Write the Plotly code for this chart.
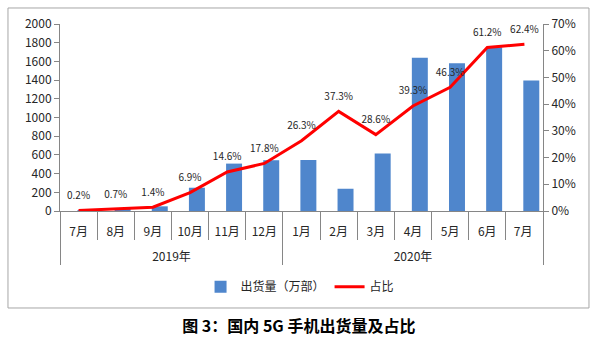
import plotly.graph_objects as go

years = ["<br>2019年"] * 6 + ["<br>2020年"] * 7
# trailing space on 2020's July keeps it distinct from 2019's July (plotly groups identical sub-labels)
months = ["7月", "8月", "9月", "10月", "11月", "12月", "1月", "2月", "3月", "4月", "5月", "6月", "7月 "]
shipments = [5, 22, 50, 249, 507, 543, 546, 238, 616, 1638, 1579, 1751, 1395]
share_pct = [0.2, 0.7, 1.4, 6.9, 14.6, 17.8, 26.3, 37.3, 28.6, 39.3, 46.3, 61.2, 62.4]
share_labels = [f"{v}%" for v in share_pct]

FONT = "Noto Sans CJK SC, Noto Sans, sans-serif"
AX = "#868686"

fig = go.Figure()
fig.add_trace(go.Bar(
    x=[years, months], y=shipments, name="出货量（万部）",
    marker=dict(color="#4F86CC", line=dict(width=0)),
    width=0.43, offset=-0.03,
))
fig.add_trace(go.Scatter(
    x=[years, months], y=share_pct, name="占比", yaxis="y2",
    mode="lines+markers+text", text=share_labels, textposition="top center",
    textfont=dict(size=10, color="#262626", family=FONT),
    marker=dict(size=13, color="rgba(0,0,0,0)"),
    line=dict(color="#FF0000", width=3),
    cliponaxis=False,
))

fig.update_layout(
    width=600, height=350,
    margin=dict(l=60, r=57, t=24, b=139),
    paper_bgcolor="white", plot_bgcolor="white",
    font=dict(family=FONT, size=12, color="#262626"),
    showlegend=True,
    legend=dict(orientation="h", x=0.497, xanchor="center", y=-0.405, yanchor="middle",
                font=dict(size=12, family=FONT), itemwidth=30, traceorder="normal"),
    title=dict(text="<b>图 3：国内 5G 手机出货量及占比</b>", x=0.498, xanchor="center",
               xref="container", y=1 - 326 / 350, yref="container", yanchor="middle",
               font=dict(size=16, family=FONT, color="#000000")),
    xaxis=dict(
        type="multicategory", range=[-0.5, 12.5], showline=True, linecolor=AX, linewidth=1,
        ticks="outside", tickson="boundaries", ticklen=28, tickcolor=AX,
        ticklabelstandoff=10,
        showdividers=True, dividercolor=AX, dividerwidth=1,
        showgrid=False, tickfont=dict(size=12, family=FONT),
    ),
    yaxis=dict(
        range=[0, 2000], dtick=200, showgrid=False, showline=True, linecolor=AX,
        ticks="outside", ticklen=5, tickcolor=AX, zeroline=False,
        tickfont=dict(size=12, family=FONT),
    ),
    yaxis2=dict(
        range=[0, 70], dtick=10, ticksuffix="%", overlaying="y", side="right",
        showgrid=False, showline=True, linecolor=AX, ticks="outside", ticklen=5,
        tickcolor=AX, zeroline=False, tickfont=dict(size=12, family=FONT),
    ),
    shapes=[dict(type="rect", xref="paper", yref="paper",
                 x0=-0.1077, x1=1.0952, y0=-0.5187, y1=1.0856,
                 line=dict(color="#A6A6A6", width=1), fillcolor="rgba(0,0,0,0)", layer="below")],
)

fig.write_html("out.html")
